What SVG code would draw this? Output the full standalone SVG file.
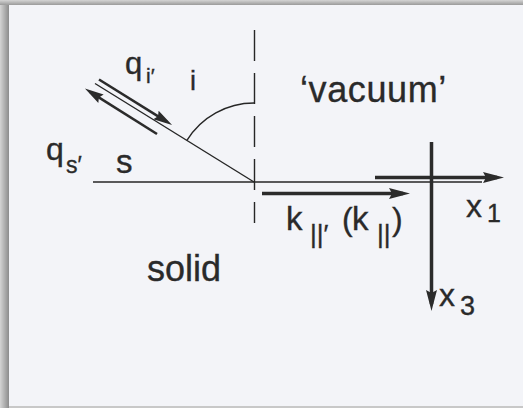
<svg xmlns="http://www.w3.org/2000/svg" width="523" height="408" viewBox="0 0 523 408">
  <defs>
    <linearGradient id="gl" x1="0" y1="0" x2="1" y2="0">
      <stop offset="0" stop-color="#d4d4d4"/>
      <stop offset="1" stop-color="#8c8c8c"/>
    </linearGradient>
    <linearGradient id="gt" x1="0" y1="0" x2="0" y2="1">
      <stop offset="0" stop-color="#d4d4d4"/>
      <stop offset="1" stop-color="#9a9a9a"/>
    </linearGradient>
    <marker id="big" markerUnits="userSpaceOnUse" markerWidth="22" markerHeight="12" refX="14" refY="6" orient="auto">
      <path d="M0,0.5 L21,6 L0,11.5 L3,6 z" fill="#2b2b2b"/>
    </marker>
    <marker id="small" markerUnits="userSpaceOnUse" markerWidth="20" markerHeight="11" refX="13" refY="5.5" orient="auto">
      <path d="M0,0.5 L19,5.5 L0,10.5 L2.5,5.5 z" fill="#2b2b2b"/>
    </marker>
    <style>
      text { font-family: "Liberation Sans", Arial, sans-serif; fill: #2a2a2a; stroke: #2a2a2a; stroke-width: 0.35; }
      .thin { stroke: #262626; stroke-width: 1.4; fill: none; }
      .thick { stroke: #2b2b2b; stroke-width: 3.5; fill: none; }
      .mid { stroke: #2b2b2b; stroke-width: 2.6; fill: none; }
    </style>
  </defs>

  <g id="frame">
    <rect x="0" y="0" width="523" height="408" fill="#c8c8c8"/>
    <rect x="0" y="0" width="9" height="408" fill="url(#gl)"/>
    <rect x="0" y="0" width="523" height="5" fill="url(#gt)"/>
    <rect x="9" y="5" width="514" height="401" fill="#f3f4f8"/>
  </g>

  <g id="connectors">
    <line class="thin" x1="93" y1="182" x2="482" y2="182"/>
    <line class="thin" x1="254.5" y1="30" x2="254.5" y2="223" stroke-dasharray="31 12"/>
    <line class="thin" x1="254" y1="182" x2="95" y2="83.5"/>
    <path class="thin" d="M186.9,140.4 A79,79 0 0 1 254.5,103"/>
    <line class="mid" x1="99" y1="79.5" x2="167" y2="121.8" marker-end="url(#small)"/>
    <line class="mid" x1="157" y1="134" x2="90" y2="91.8" marker-end="url(#small)"/>
    <line class="thick" x1="262" y1="193.5" x2="403" y2="193.5" marker-end="url(#big)"/>
    <line class="thick" x1="375" y1="177.5" x2="497" y2="177.5" marker-end="url(#big)"/>
    <line class="thick" x1="431.5" y1="142" x2="431.5" y2="304" marker-end="url(#big)"/>
  </g>

  <g id="label-qi">
    <text x="125" y="74" font-size="31">q</text>
    <text x="146" y="83" font-size="21">i′</text>
  </g>
  <g id="label-i">
    <text x="190" y="90" font-size="27">i</text>
  </g>
  <g id="label-vacuum">
    <text x="300" y="102" font-size="36" letter-spacing="0.6">‘vacuum’</text>
  </g>
  <g id="label-qs">
    <text x="46" y="160" font-size="32">q</text>
    <text x="66" y="173" font-size="23">s′</text>
  </g>
  <g id="label-s">
    <text x="116" y="173" font-size="33">s</text>
  </g>
  <g id="label-k">
    <text x="286" y="230" font-size="33">k</text>
    <text x="310" y="243" font-size="26">||′</text>
    <text x="342" y="230" font-size="32">(</text>
    <text x="352" y="230" font-size="33">k</text>
    <text x="377" y="243" font-size="26">||</text>
    <text x="392" y="230" font-size="32">)</text>
  </g>
  <g id="label-solid">
    <text x="147" y="281" font-size="36">solid</text>
  </g>
  <g id="label-x1">
    <text x="466" y="217" font-size="32">x</text>
    <text x="487" y="222" font-size="25">1</text>
  </g>
  <g id="label-x3">
    <text x="439" y="306" font-size="32">x</text>
    <text x="460" y="315" font-size="27">3</text>
  </g>
</svg>
